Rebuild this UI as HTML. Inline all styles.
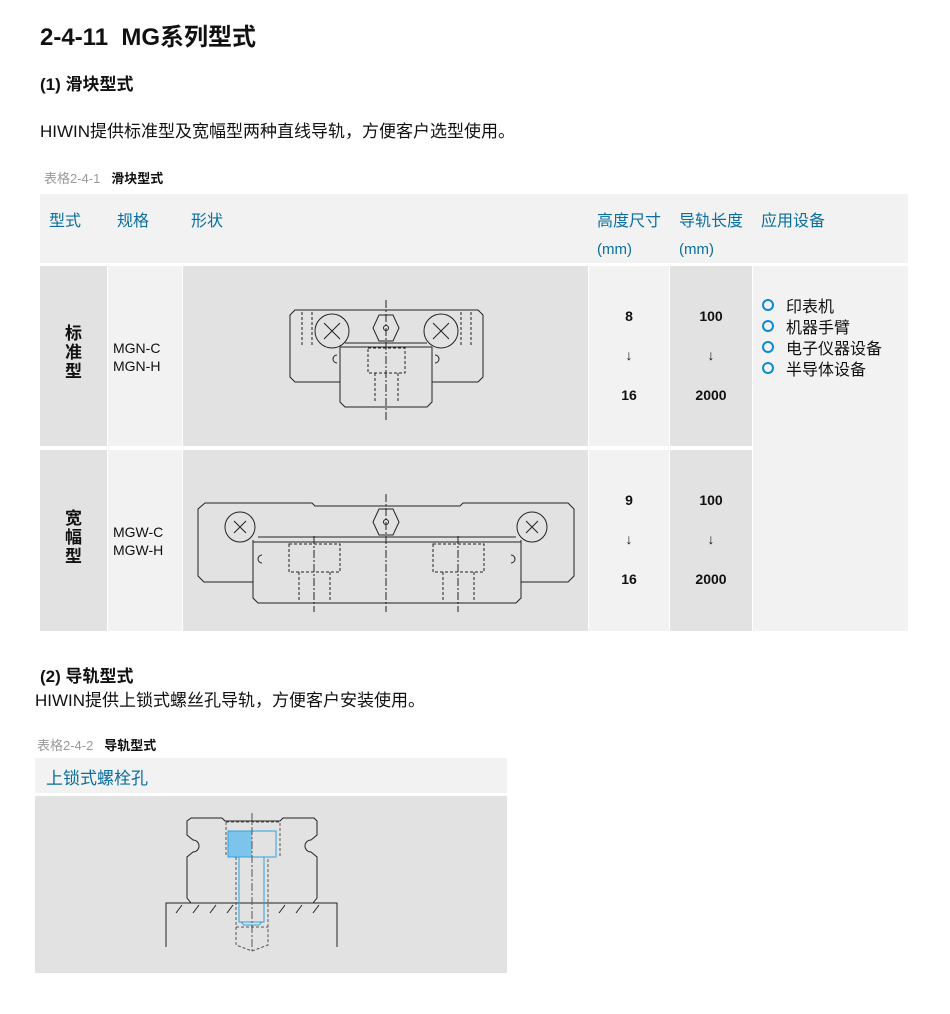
<!DOCTYPE html>
<html><head><meta charset="utf-8"><style>
body{margin:0;width:950px;height:1014px;background:#fff;position:relative;overflow:hidden;font-family:"Liberation Sans","Noto Sans CJK SC",sans-serif;color:#111}
.a{position:absolute;white-space:nowrap}
.c{position:absolute}
.b{color:#0a6e9e;font-size:16px}
.lg{background:#f2f2f2}.dg{background:#e2e2e2}
.n{font-size:14px;font-weight:bold;text-align:center}
</style></head><body>
<div class="a" style="left:40px;top:17px;font-size:24px;font-weight:bold">2-4-11&nbsp; MG系列型式</div>
<div class="a" style="left:40px;top:70px;font-size:17px;font-weight:bold">(1) 滑块型式</div>
<div class="a" style="left:40px;top:117px;font-size:17px">HIWIN提供标准型及宽幅型两种直线导轨，方便客户选型使用。</div>
<div class="a" style="left:44px;top:168px;font-size:13px"><span style="color:#999">表格2-4-1</span>&nbsp;&nbsp; <b>滑块型式</b></div>

<div class="c lg" style="left:40px;top:194px;width:868px;height:69px"></div>
<div class="a b" style="left:49px;top:207px">型式</div>
<div class="a b" style="left:117px;top:207px">规格</div>
<div class="a b" style="left:191px;top:207px">形状</div>
<div class="a b" style="left:597px;top:207px">高度尺寸</div>
<div class="a b" style="left:679px;top:207px">导轨长度</div>
<div class="a b" style="left:761px;top:207px">应用设备</div>
<div class="a b" style="left:597px;top:241px;font-size:15px">(mm)</div>
<div class="a b" style="left:679px;top:241px;font-size:15px">(mm)</div>

<div class="c dg" style="left:40px;top:266px;width:67px;height:180px"></div>
<div class="c lg" style="left:108px;top:266px;width:74px;height:180px"></div>
<div class="c dg" style="left:183px;top:266px;width:405px;height:180px"></div>
<div class="c lg" style="left:589px;top:266px;width:80px;height:180px"></div>
<div class="c dg" style="left:670px;top:266px;width:82px;height:180px"></div>
<div class="c dg" style="left:40px;top:450px;width:67px;height:181px"></div>
<div class="c lg" style="left:108px;top:450px;width:74px;height:181px"></div>
<div class="c dg" style="left:183px;top:450px;width:405px;height:181px"></div>
<div class="c lg" style="left:589px;top:450px;width:80px;height:181px"></div>
<div class="c dg" style="left:670px;top:450px;width:82px;height:181px"></div>
<div class="c lg" style="left:753px;top:266px;width:155px;height:365px"></div>

<div class="a" style="left:65px;top:324px;font-size:17px;line-height:19px;font-weight:bold;white-space:normal;width:18px">标准型</div>
<div class="a" style="left:113px;top:339px;font-size:14px;line-height:18px">MGN-C<br>MGN-H</div>
<div class="a" style="left:65px;top:509px;font-size:17px;line-height:19px;font-weight:bold;white-space:normal;width:18px">宽幅型</div>
<div class="a" style="left:113px;top:523px;font-size:14px;line-height:18px">MGW-C<br>MGW-H</div>

<div class="a n" style="left:589px;width:80px;top:308px">8</div>
<div class="a n" style="left:589px;width:80px;top:347px">↓</div>
<div class="a n" style="left:589px;width:80px;top:387px">16</div>
<div class="a n" style="left:670px;width:82px;top:308px">100</div>
<div class="a n" style="left:670px;width:82px;top:347px">↓</div>
<div class="a n" style="left:670px;width:82px;top:387px">2000</div>
<div class="a n" style="left:589px;width:80px;top:492px">9</div>
<div class="a n" style="left:589px;width:80px;top:531px">↓</div>
<div class="a n" style="left:589px;width:80px;top:571px">16</div>
<div class="a n" style="left:670px;width:82px;top:492px">100</div>
<div class="a n" style="left:670px;width:82px;top:531px">↓</div>
<div class="a n" style="left:670px;width:82px;top:571px">2000</div>

<div class="a" style="left:762px;top:297px;font-size:16px;line-height:21px">
<div><span style="display:inline-block;width:8px;height:8px;border:2px solid #0a8ad0;border-radius:50%;margin-right:12px;vertical-align:1px"></span>印表机</div>
<div><span style="display:inline-block;width:8px;height:8px;border:2px solid #0a8ad0;border-radius:50%;margin-right:12px;vertical-align:1px"></span>机器手臂</div>
<div><span style="display:inline-block;width:8px;height:8px;border:2px solid #0a8ad0;border-radius:50%;margin-right:12px;vertical-align:1px"></span>电子仪器设备</div>
<div><span style="display:inline-block;width:8px;height:8px;border:2px solid #0a8ad0;border-radius:50%;margin-right:12px;vertical-align:1px"></span>半导体设备</div>
</div>

<svg class="c" style="left:0;top:0" width="950" height="1014" fill="none" stroke="#222" stroke-width="1">
<path d="M295 310 H478 L483 315 V377 L478 382 H432 V402 L427 407 H345 L340 402 V382 H295 L290 377 V315 Z"/>
<line x1="340" y1="347" x2="340" y2="382"/><line x1="432" y1="347" x2="432" y2="382"/>
<line x1="340" y1="347" x2="432" y2="347"/><line x1="345" y1="343" x2="427" y2="343"/>
<circle cx="332" cy="331" r="17"/><circle cx="441" cy="331" r="17"/>
<path d="M324 323 L340 339 M340 323 L324 339 M433 323 L449 339 M449 323 L433 339"/>
<path d="M379 315 H393 L399 328 L393 341 H379 L373 328 Z"/><circle cx="386" cy="328" r="2.5"/>
<path d="M386 300 V420" stroke-dasharray="8 2 2 2"/>
<path d="M368 348 H405 V373 H368 Z M375 373 V402 M398 373 V402 M302 312 V345 M312 312 V345 M461 312 V345 M471 312 V345" stroke-dasharray="3 2"/>
<path d="M337 355 a4 4 0 1 0 0 8 M435 355 a4 4 0 1 1 0 8"/>
<path d="M205 503 H312 L315 506 H460 L463 503 H568 L574 509 V576 L568 582 H521 V598 L516 603 H258 L253 598 V582 H204 L198 576 V509 Z"/>
<line x1="253" y1="540" x2="253" y2="582"/><line x1="521" y1="540" x2="521" y2="582"/>
<line x1="258" y1="537" x2="516" y2="537"/><line x1="253" y1="542" x2="521" y2="542"/>
<circle cx="240" cy="527" r="15"/><circle cx="532" cy="527" r="15"/>
<path d="M234 521 L246 533 M246 521 L234 533 M526 521 L538 533 M538 521 L526 533"/>
<path d="M379 509 H393 L399 522 L393 535 H379 L373 522 Z"/><circle cx="386" cy="522" r="2.5"/>
<path d="M386 494 V612 M314 536 V612 M458 536 V612" stroke-dasharray="8 2 2 2"/>
<path d="M289 544 H340 V572 H289 Z M299 572 V600 M330 572 V600 M433 544 H484 V572 H433 Z M443 572 V600 M474 572 V600" stroke-dasharray="3 2"/>
<path d="M262 555 a4 4 0 1 0 0 8 M511 555 a4 4 0 1 1 0 8"/>
</svg>

<div class="a" style="left:40px;top:662px;font-size:17px;font-weight:bold">(2) 导轨型式</div>
<div class="a" style="left:35px;top:686px;font-size:17px">HIWIN提供上锁式螺丝孔导轨，方便客户安装使用。</div>
<div class="a" style="left:37px;top:735px;font-size:13px"><span style="color:#999">表格2-4-2</span>&nbsp;&nbsp; <b>导轨型式</b></div>
<div class="c lg" style="left:35px;top:758px;width:472px;height:35px"></div>
<div class="a b" style="left:46px;top:764px;font-size:17px">上锁式螺栓孔</div>
<div class="c dg" style="left:35px;top:796px;width:472px;height:177px"></div>
<svg class="c" style="left:0;top:0" width="950" height="1014" fill="none" stroke="#222" stroke-width="1">
<path d="M191 818 H222 L225 821 H280 L283 818 H314 L317 821 V835 L311 840 a6 6 0 0 0 0 12 L317 857 V898 L313 903 H191 L187 898 V857 L193 852 a6 6 0 0 0 0 -12 L187 835 V821 Z"/>
<path d="M166 947 V903 H337 V947"/>
<path d="M176 913 L182 905 M193 913 L199 905 M210 913 L216 905 M227 913 L233 905 M279 913 L285 905 M296 913 L302 905 M313 913 L319 905"/>
<rect x="228" y="831" width="24" height="26" fill="#7cc4ec" stroke="none"/>
<rect x="228" y="831" width="48" height="26" stroke="#2aa3e0"/>
<path d="M239 857 V922 H264 V857 M241 922 L244 925 H259 L262 922" stroke="#2aa3e0"/>
<path d="M226 822 H280 V857 M226 822 V857 M236 857 V945 L252 951 L268 945 V857 M236 927 H268" stroke="#555" stroke-dasharray="3 2"/>
<path d="M252 813 V953" stroke="#555" stroke-dasharray="8 2 2 2"/>
</svg>
</body></html>
